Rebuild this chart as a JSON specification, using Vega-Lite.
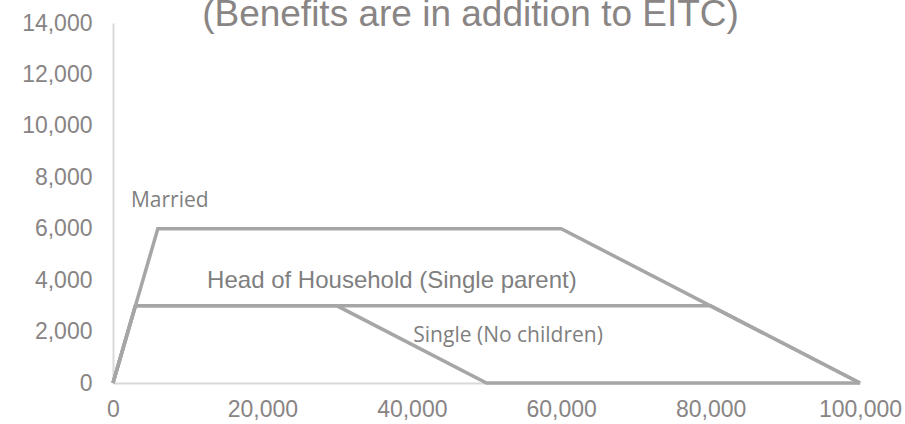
{
  "$schema": "https://vega.github.io/schema/vega-lite/v6.json",
  "autosize": {"type": "none"},
  "padding": {"left": 113, "top": 23, "right": 45, "bottom": 41},
  "width": 747,
  "height": 360,
  "background": "white",
  "title": {
    "text": "(Benefits are in addition to EITC)",
    "font": "Liberation Sans",
    "fontSize": 37,
    "fontWeight": "normal",
    "color": "#898585",
    "baseline": "alphabetic",
    "offset": -51,
    "dx": -16
  },
  "config": {
    "view": {"stroke": null},
    "axis": {
      "labelFont": "Liberation Sans",
      "labelFontSize": 23,
      "labelColor": "#888484",
      "grid": false,
      "ticks": false,
      "domainColor": "#d9d9d9",
      "domainWidth": 2,
      "title": null
    }
  },
  "datasets": {
    "lines": [
      {"status": "Married", "income": 0, "benefit": 0, "order": 1},
      {"status": "Married", "income": 6000, "benefit": 6000, "order": 2},
      {"status": "Married", "income": 60000, "benefit": 6000, "order": 3},
      {"status": "Married", "income": 100000, "benefit": 0, "order": 4},
      {"status": "Head of Household", "income": 0, "benefit": 0, "order": 1},
      {"status": "Head of Household", "income": 3000, "benefit": 3000, "order": 2},
      {"status": "Head of Household", "income": 80000, "benefit": 3000, "order": 3},
      {"status": "Head of Household", "income": 100000, "benefit": 0, "order": 4},
      {"status": "Single", "income": 0, "benefit": 0, "order": 1},
      {"status": "Single", "income": 3000, "benefit": 3000, "order": 2},
      {"status": "Single", "income": 30000, "benefit": 3000, "order": 3},
      {"status": "Single", "income": 50000, "benefit": 0, "order": 4},
      {"status": "Single", "income": 100000, "benefit": 0, "order": 5}
    ],
    "labels": [
      {"label": "Married", "income": 2400, "benefit": 7080, "font": "a"},
      {"label": "Head of Household (Single parent)", "income": 12600, "benefit": 3970, "font": "b"},
      {"label": "Single (No children)", "income": 40200, "benefit": 1830, "font": "a"}
    ]
  },
  "layer": [
    {
      "data": {"name": "lines"},
      "mark": {"type": "line", "color": "#a6a6a6", "strokeWidth": 3.5, "clip": false},
      "encoding": {
        "x": {
          "field": "income", "type": "quantitative",
          "scale": {"domain": [0, 100000], "nice": false},
          "axis": {"values": [0, 20000, 40000, 60000, 80000, 100000], "format": ",.0f", "labelPadding": 15, "labelFlush": false}
        },
        "y": {
          "field": "benefit", "type": "quantitative",
          "scale": {"domain": [0, 14000], "nice": false},
          "axis": {"values": [0, 2000, 4000, 6000, 8000, 10000, 12000, 14000], "format": ",.0f", "labelPadding": 21}
        },
        "detail": {"field": "status"},
        "order": {"field": "order"}
      }
    },
    {
      "data": {"name": "labels"},
      "transform": [{"filter": "datum.font == 'a'"}],
      "mark": {"type": "text", "align": "left", "baseline": "middle", "font": "Open Sans", "fontSize": 21, "color": "#7f7f7f"},
      "encoding": {
        "x": {"field": "income", "type": "quantitative"},
        "y": {"field": "benefit", "type": "quantitative"},
        "text": {"field": "label"}
      }
    },
    {
      "data": {"name": "labels"},
      "transform": [{"filter": "datum.font == 'b'"}],
      "mark": {"type": "text", "align": "left", "baseline": "middle", "font": "Liberation Sans", "fontSize": 24, "color": "#7f7f7f"},
      "encoding": {
        "x": {"field": "income", "type": "quantitative"},
        "y": {"field": "benefit", "type": "quantitative"},
        "text": {"field": "label"}
      }
    }
  ]
}
